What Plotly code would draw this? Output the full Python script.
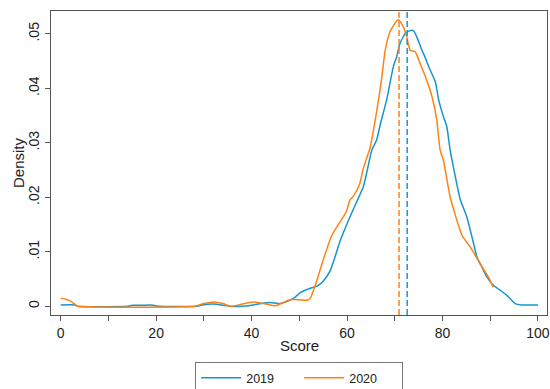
import plotly.graph_objects as go

# ---- data ----
x_2019 = [0, 3, 3.6, 14, 15, 17, 19.4, 20.5, 28.6, 30, 32, 34, 35.5, 38, 40, 42, 43.9, 46, 47.5, 49,
          50.2, 52.3, 53.7, 55, 56.5, 58.6, 60.6, 62.7, 63.4, 64.1, 65.2, 66.2, 67, 68.3, 69.7, 70.4,
          71.1, 71.8, 72.2, 73.2, 73.9, 74.6, 75.7, 76.4, 77.1, 78.5, 79.2, 80.2, 80.9, 81.6, 83.7,
          85.1, 86.5, 87.2, 88.6, 89.3, 90.6, 92, 93.5, 95.2, 96.6, 100]
d_2019 = [0.00024, 0.00024, 0.0, 0.0, 0.0002, 0.0002, 0.0002, 0.0, 0.0, 0.0003, 0.0004, 0.0002, 0.0, 0.0,
          0.0002, 0.0005, 0.0007, 0.0005, 0.0009, 0.0016,
          0.0025, 0.0033, 0.0037, 0.0046, 0.0066, 0.0121, 0.0164, 0.0205, 0.0219, 0.0244, 0.0287, 0.0305,
          0.0335, 0.0379, 0.044, 0.0458,
          0.0483, 0.0495, 0.0501, 0.0506, 0.0506, 0.0495, 0.047, 0.0456, 0.044, 0.0412, 0.0379, 0.0348,
          0.033, 0.0287, 0.0197,
          0.0164, 0.0116, 0.0091, 0.0066, 0.0054, 0.0039, 0.003, 0.002, 0.0005, 0.00024, 0.00024]

x_2020 = [0, 1, 2, 3.2, 3.6, 28, 30, 32, 34, 35.5, 37, 40.3, 43, 45, 48, 50, 51.6, 52.3, 53.7, 55,
          56.8, 59.2, 59.9, 60.6, 61.4, 62.7, 63.4, 64.8, 66.6, 67.3, 68, 69, 70.4, 70.8, 71.8, 72.5,
          73.2, 74.3, 75.3, 76.7, 77.8, 78.8, 79.5, 80.2, 81.6, 84.1, 85.8, 87.9, 89.6, 90.6]
d_2020 = [0.0015, 0.0013, 0.001, 0.0002, 0.0, 0.0, 0.0005, 0.0008, 0.0005, 0.0, 0.0002, 0.0008, 0.0004,
          0.0001, 0.0012, 0.0012, 0.0011, 0.0015, 0.0048, 0.0085,
          0.013, 0.0164, 0.0175, 0.0195, 0.0203, 0.0226, 0.0253, 0.029, 0.0379, 0.0421, 0.047, 0.0504,
          0.0524, 0.0526, 0.0513, 0.0495,
          0.047, 0.0467, 0.0446, 0.0415, 0.0385, 0.0342, 0.0287, 0.0268, 0.0201, 0.013, 0.0109, 0.0078,
          0.0054, 0.0035]

mean_2019 = 72.6
mean_2020 = 70.9

series_names = ["2019", "2020"]
x_ticks = [0, 10, 20, 30, 40, 50, 60, 70, 80, 90, 100]
x_tick_text = ["0", "", "20", "", "40", "", "60", "", "80", "", "100"]
y_ticks = [0, 0.01, 0.02, 0.03, 0.04, 0.05]
y_tick_text = ["0", ".01", ".02", ".03", ".04", ".05"]

BLUE = "#1496cc"
ORANGE = "#ff8214"
FONT = "Liberation Sans, Arial, sans-serif"

fig = go.Figure()
fig.add_trace(go.Scatter(x=x_2019, y=d_2019, mode="lines", name=series_names[0],
                         line=dict(color=BLUE, width=1.5, shape="spline", smoothing=0.5)))
fig.add_trace(go.Scatter(x=x_2020, y=d_2020, mode="lines", name=series_names[1],
                         line=dict(color=ORANGE, width=1.5, shape="spline", smoothing=0.5)))

for m, c in [(mean_2020, ORANGE), (mean_2019, BLUE)]:
    fig.add_shape(type="line", xref="x", yref="paper", x0=m, x1=m, y0=0, y1=1,
                  line=dict(color=c, width=1.5, dash="6px,3px"))

fig.add_annotation(text="Density", xref="paper", yref="paper", x=-0.0665, y=0.5,
                   xanchor="center", yanchor="middle", textangle=-90, showarrow=False,
                   font=dict(size=15, color="#222"))
fig.add_annotation(text="Score", xref="paper", yref="paper", x=0.5, y=-0.1,
                   xanchor="center", yanchor="middle", showarrow=False,
                   font=dict(size=15, color="#222"))

fig.update_layout(
    width=550, height=389,
    margin=dict(l=51, r=3, t=11, b=74),
    paper_bgcolor="white", plot_bgcolor="white",
    font=dict(family=FONT, size=14, color="#222"),
    showlegend=True,
    legend=dict(orientation="h", x=0.544, xanchor="center", xref="container",
                y=0.0694, yanchor="top", yref="container",
                bordercolor="#777", borderwidth=1, font=dict(size=12.5),
                itemwidth=40, entrywidth=48, tracegroupgap=0),
)
fig.update_xaxes(range=[-2.03, 101.9], tickvals=x_ticks, ticktext=x_tick_text,
                 ticks="outside", ticklen=5, tickcolor="#555", showgrid=False, zeroline=False,
                 showline=True, linecolor="#555", linewidth=1, mirror=True, automargin=False)
fig.update_yaxes(range=[-0.0016, 0.0542], tickvals=y_ticks, ticktext=y_tick_text, tickangle=-90,
                 ticks="outside", ticklen=5, tickcolor="#555", showgrid=False, zeroline=False,
                 showline=True, linecolor="#555", linewidth=1, mirror=True, automargin=False)

fig.write_html("out.html")
